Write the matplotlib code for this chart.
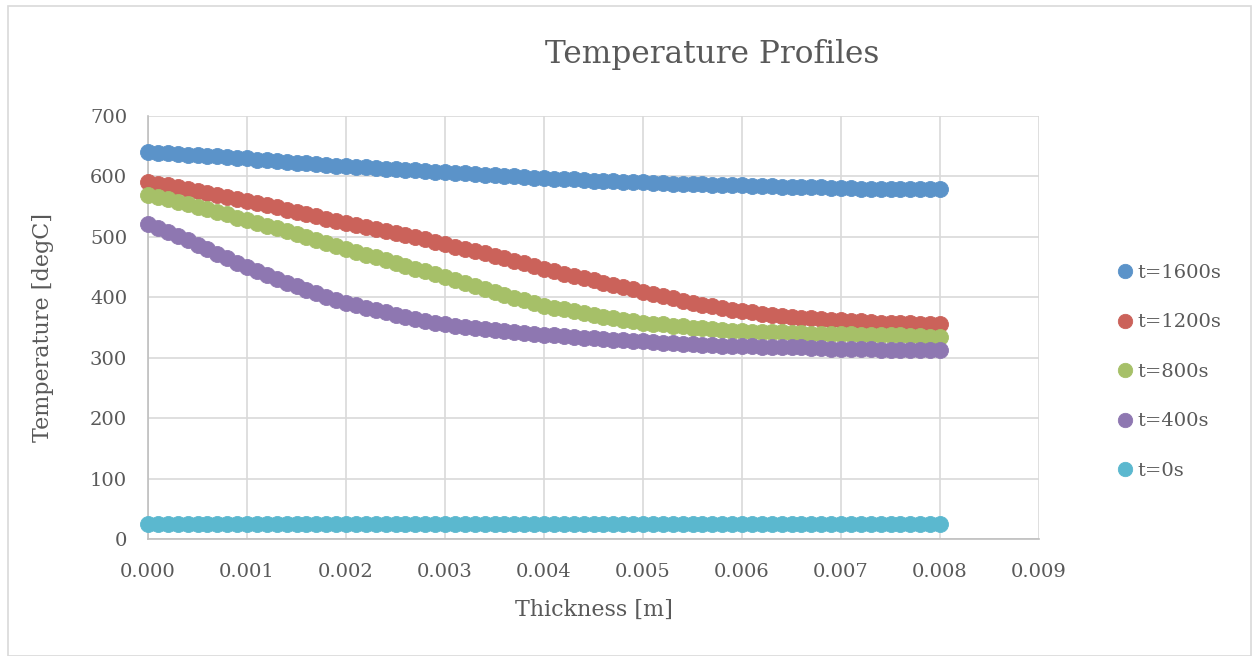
import numpy as np
import matplotlib
matplotlib.use("Agg")
import matplotlib.pyplot as plt
from matplotlib.patches import Rectangle

# Position through the wall [m]
thickness = [round(i * 0.0001, 4) for i in range(81)]

# Temperature [degC] at each position for every time step
temp_1600 = [640, 639, 638, 637, 636, 635, 634, 633, 632, 631,
             630, 628, 627, 626, 624, 623, 622, 621, 619, 618,
             617, 616, 615, 614, 613, 612, 611, 610, 609, 608,
             607, 606, 605, 604, 603, 602, 601, 600, 599, 598,
             597, 596, 595, 595, 594, 593, 592, 592, 591, 590,
             590, 589, 589, 588, 588, 587, 587, 586, 586, 585,
             585, 584, 584, 584, 583, 583, 583, 582, 582, 581,
             581, 581, 580, 580, 580, 580, 580, 579, 579, 579,
             579]
temp_1200 = [591, 588, 585, 582, 579, 576, 573, 570, 566, 563,
             560, 556, 552, 549, 545, 541, 537, 534, 530, 527,
             523, 520, 517, 513, 510, 507, 503, 499, 496, 492,
             488, 484, 480, 477, 473, 469, 465, 460, 456, 451,
             447, 443, 439, 436, 432, 428, 424, 420, 417, 413,
             409, 405, 402, 398, 394, 391, 388, 385, 382, 379,
             377, 375, 373, 371, 369, 368, 366, 365, 364, 363,
             362, 361, 360, 359, 358, 358, 357, 357, 356, 356,
             355]
temp_800 = [570, 566, 562, 558, 554, 550, 546, 541, 537, 532,
            528, 523, 518, 514, 509, 504, 499, 494, 490, 485,
            480, 475, 470, 466, 461, 456, 452, 447, 443, 438,
            434, 429, 424, 419, 414, 409, 404, 399, 395, 390,
            386, 383, 380, 377, 374, 371, 368, 366, 363, 361,
            358, 356, 355, 353, 352, 350, 349, 348, 346, 345,
            344, 343, 343, 342, 342, 341, 341, 340, 340, 339,
            339, 339, 338, 338, 337, 337, 337, 336, 336, 335,
            335]
temp_400 = [522, 515, 508, 501, 494, 487, 480, 472, 465, 457,
            450, 444, 437, 431, 424, 418, 412, 407, 401, 396,
            391, 387, 383, 379, 375, 371, 368, 364, 361, 358,
            355, 353, 351, 350, 348, 346, 344, 343, 341, 340,
            338, 337, 336, 334, 333, 332, 331, 330, 329, 328,
            327, 326, 325, 324, 323, 322, 321, 321, 320, 320,
            319, 319, 318, 318, 317, 317, 317, 316, 316, 315,
            315, 315, 314, 314, 313, 313, 313, 312, 312, 312,
            312]
temp_0 = [25, 25, 25, 25, 25, 25, 25, 25, 25, 25,
          25, 25, 25, 25, 25, 25, 25, 25, 25, 25,
          25, 25, 25, 25, 25, 25, 25, 25, 25, 25,
          25, 25, 25, 25, 25, 25, 25, 25, 25, 25,
          25, 25, 25, 25, 25, 25, 25, 25, 25, 25,
          25, 25, 25, 25, 25, 25, 25, 25, 25, 25,
          25, 25, 25, 25, 25, 25, 25, 25, 25, 25,
          25, 25, 25, 25, 25, 25, 25, 25, 25, 25,
          25]

series_labels = ["t=1600s", "t=1200s", "t=800s", "t=400s", "t=0s"]
series_values = [temp_1600, temp_1200, temp_800, temp_400, temp_0]
series_colors = ["#5B93C9", "#CB625A", "#A6C068", "#8E77B1", "#5BB8CF"]

x_ticks = [0.000, 0.001, 0.002, 0.003, 0.004, 0.005, 0.006, 0.007, 0.008, 0.009]
y_ticks = [0, 100, 200, 300, 400, 500, 600, 700]

plt.rcParams["font.family"] = ["DejaVu Serif"]
text_color = "#595959"

W, H = 1253, 656
fig = plt.figure(figsize=(W / 100, H / 100), dpi=100)
fig.patch.set_facecolor("white")

# light frame round the chart area
fig.patches.append(Rectangle((8 / W, 0), (W - 10) / W, (H - 6) / H,
                             transform=fig.transFigure, fill=False,
                             edgecolor="#d9d9d9", linewidth=1.2))

ax = fig.add_axes([148 / W, 1 - 539 / H, (1039 - 148) / W, (539 - 116) / H])

for label, vals, col in zip(series_labels, series_values, series_colors):
    ax.plot(thickness, vals, linestyle="none", marker="o", markersize=11.5,
            markerfacecolor=col, markeredgecolor=col, markeredgewidth=0.6,
            label=label, clip_on=False, zorder=3)

ax.set_xlim(0, 0.009)
ax.set_ylim(0, 700)
ax.set_xticks(x_ticks)
ax.set_xticklabels([f"{v:.3f}" for v in x_ticks])
ax.set_yticks(y_ticks)
ax.grid(True, color="#d9d9d9", linewidth=1.2)
ax.set_axisbelow(True)
for side in ("top", "right"):
    ax.spines[side].set_visible(False)
for side in ("left", "bottom"):
    ax.spines[side].set_color("#bfbfbf")
    ax.spines[side].set_linewidth(1.2)
ax.tick_params(length=0, labelsize=14, labelcolor=text_color)
ax.tick_params(axis="x", pad=17)
ax.tick_params(axis="y", pad=15)

ax.set_xlabel("Thickness [m]", fontsize=16, color=text_color, labelpad=13)
ax.set_ylabel("Temperature [degC]", fontsize=16, color=text_color, labelpad=26)

fig.text(712 / W, 1 - 55 / H, "Temperature Profiles", fontsize=22.5,
         color=text_color, ha="center", va="center")

leg = ax.legend(loc="center left", bbox_to_anchor=(1108 / W, 1 - 372 / H),
                bbox_transform=fig.transFigure, frameon=False,
                fontsize=14, labelcolor=text_color, markerscale=0.9,
                handlelength=0.7, handletextpad=0.3, labelspacing=1.62,
                borderpad=0)

fig.savefig("out.png", dpi=100)
